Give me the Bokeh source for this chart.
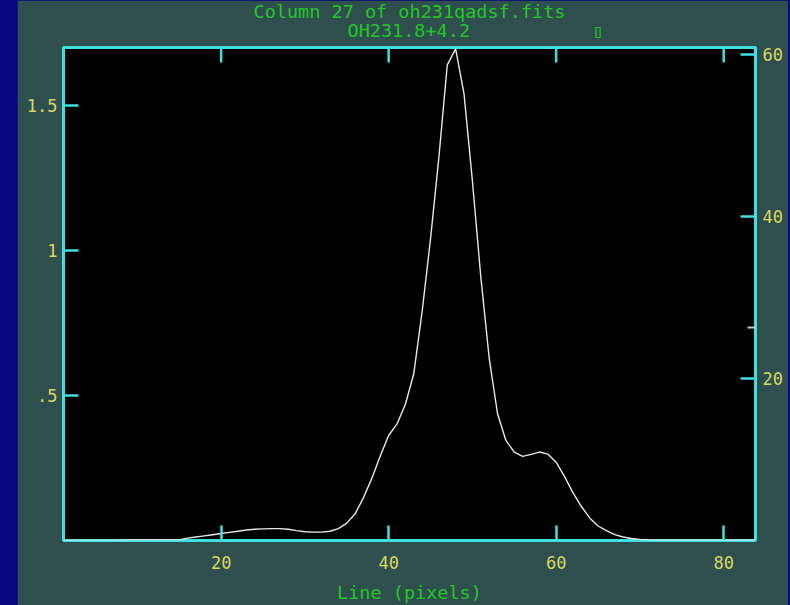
import math
from bokeh.plotting import figure
from bokeh.models import Range1d, LinearAxis, FixedTicker, Title, Spacer
from bokeh.layouts import row
from bokeh.embed import file_html
from bokeh.resources import INLINE

# ---- data ----
line_px = list(range(1, 85))
intensity = [
    0.0, 0.0, 0.0, 0.0, 0.0, 0.0, 0.0, 0.0,            # 1-8
    0.002, 0.002, 0.002, 0.002, 0.002, 0.002, 0.002,   # 9-15
    0.008, 0.012, 0.016, 0.020, 0.024,                 # 16-20
    0.028, 0.032, 0.036, 0.039, 0.040,                 # 21-25
    0.041, 0.041, 0.039, 0.034, 0.030,                 # 26-30
    0.029, 0.029, 0.032, 0.041, 0.060,                 # 31-35
    0.092, 0.148, 0.215, 0.291, 0.362,                 # 36-40
    0.402, 0.470, 0.575, 0.790, 1.040,                 # 41-45
    1.322, 1.640, 1.695, 1.540, 1.240,                 # 46-50
    0.910, 0.630, 0.437, 0.345, 0.305,                 # 51-55
    0.290, 0.297, 0.305, 0.298, 0.270,                 # 56-60
    0.220, 0.165, 0.118, 0.078, 0.050,                 # 61-65
    0.034, 0.020, 0.012, 0.007, 0.004,                 # 66-70
    0.002, 0.001, 0.001, 0.001, 0.001,                 # 71-75
    0.001, 0.001, 0.001, 0.001, 0.001,                 # 76-80
    0.001, 0.001, 0.001, 0.001,                        # 81-84
]
x_ticks = [20, 40, 60, 80]
left_ticks = [0.5, 1.0, 1.5]
left_tick_labels = [".5", "1", "1.5"]
right_ticks = [20, 40, 60]
right_marker = [26.3]

title_line1 = "Column 27 of oh231qadsf.fits"
title_line2 = "OH231.8+4.2" + "\u00a0" * 11 + "\u25af"
x_label = "Line (pixels)"

# ---- styling ----
CYAN = "#3ee0e0"
YELLOW = "#d8d860"
GREEN = "#22c822"
PANEL = "#2f4f4f"
NAVY = "#06067e"
MONO = "DejaVu Sans Mono"

x0, x1 = 1.18, 83.8
y0, y1 = 0.0, 1.70
r0, r1 = 0.0, 60.9

p = figure(width=771, height=605, x_range=Range1d(x0, x1), y_range=Range1d(y0, y1),
           title=None, output_backend="svg", toolbar_location=None,
           background_fill_color="black", border_fill_color=PANEL,
           min_border_left=46, min_border_right=33, min_border_top=47, min_border_bottom=65,
           outline_line_color=CYAN, outline_line_width=3)
p.extra_y_ranges = {"right": Range1d(r0, r1)}
p.grid.visible = False


def style(ax, standoff):
    ax.axis_line_color = None
    ax.major_tick_in = 15
    ax.major_tick_out = 0
    ax.major_tick_line_color = CYAN
    ax.major_tick_line_width = 2.5
    ax.minor_tick_line_color = None
    ax.major_label_text_color = YELLOW
    ax.major_label_text_font = MONO
    ax.major_label_text_font_size = "17px"
    ax.major_label_standoff = standoff


xa = p.xaxis[0]
style(xa, 15)
xa.ticker = FixedTicker(ticks=x_ticks)
xa.axis_label = x_label
xa.axis_label_text_color = GREEN
xa.axis_label_text_font = MONO
xa.axis_label_text_font_size = "18.5px"
xa.axis_label_text_font_style = "normal"
xa.axis_label_standoff = 10

ya = p.yaxis[0]
style(ya, 6)
ya.ticker = FixedTicker(ticks=left_ticks)
ya.major_label_overrides = {t: s for t, s in zip(left_ticks, left_tick_labels)}

right = LinearAxis(y_range_name="right", ticker=FixedTicker(ticks=right_ticks))
style(right, 7)
p.add_layout(right, "right")

# inward ticks along the top edge
p.ray(x=x_ticks, y=[y1] * len(x_ticks), length=15, length_units="screen",
      angle=-math.pi / 2, line_color=CYAN, line_width=2.5)

p.line(line_px, intensity, line_color="#e8e8e8", line_width=1.4)

p.ray(x=[x1] * len(right_marker), y=right_marker, length=8, length_units="screen",
      angle=math.pi, y_range_name="right", line_color="#c8c8c8", line_width=2)

t2 = Title(text=title_line2, align="left", offset=284, vertical_align="top",
           text_color=GREEN, text_font=MONO, text_font_size="18.5px",
           text_font_style="normal", standoff=7.6)
t1 = Title(text=title_line1, align="center", vertical_align="bottom",
           text_color=GREEN, text_font=MONO, text_font_size="18.5px",
           text_font_style="normal", standoff=-11.2)
p.add_layout(t2, "above")
p.add_layout(t1, "above")

layout = row(
    Spacer(width=17, height=605, styles={"background-color": NAVY}), p,
    Spacer(width=2, height=605, styles={"background-color": NAVY}),
    styles={"background-color": NAVY},
)

open("out.html", "w").write(file_html(layout, INLINE))
